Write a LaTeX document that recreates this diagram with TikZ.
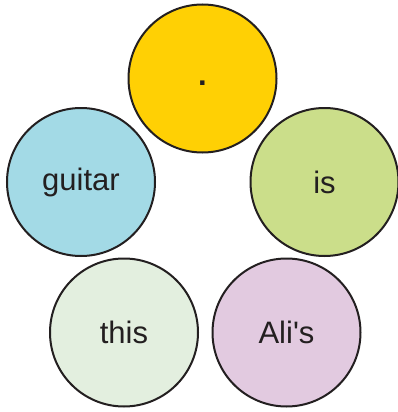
\documentclass[tikz,border=0pt]{standalone}
\usepackage{fontspec}
\setmainfont{Liberation Sans}
\definecolor{dotyellow}{HTML}{FFD004}
\definecolor{guitarblue}{HTML}{A3DAE6}
\definecolor{isgreen}{HTML}{CBDE8A}
\definecolor{thisgreen}{HTML}{E3EFDF}
\definecolor{alililac}{HTML}{E2CAE0}
\definecolor{inkgray}{HTML}{231F20}

\begin{document}
\begin{tikzpicture}[x=1pt, y=-1pt]
	% word circles
	\tikzset{word/.style={circle, draw=inkgray, line width=2pt, minimum size=148pt, inner sep=0pt, text=inkgray, font=\fontsize{31}{36}\selectfont}}

	\useasboundingbox (0,0) rectangle (398,412);

	% Row heights
	\def\yT{78.5}
	\def\yM{182}
	\def\yB{332.5}

	\node[word, fill=dotyellow] (dot) at (202.5, \yT) {\vphantom{Ag}\textbf{.}};
	\node[word, fill=guitarblue] (guitar) at (81, \yM) {guitar};
	\node[word, fill=isgreen] (is) at (324.5, \yM) {is};
	\node[word, fill=thisgreen] (this) at (124, \yB) {this};
	\node[word, fill=alililac] (alis) at (286.5, \yB) {Ali\textquotesingle s};

\end{tikzpicture}
\end{document}
